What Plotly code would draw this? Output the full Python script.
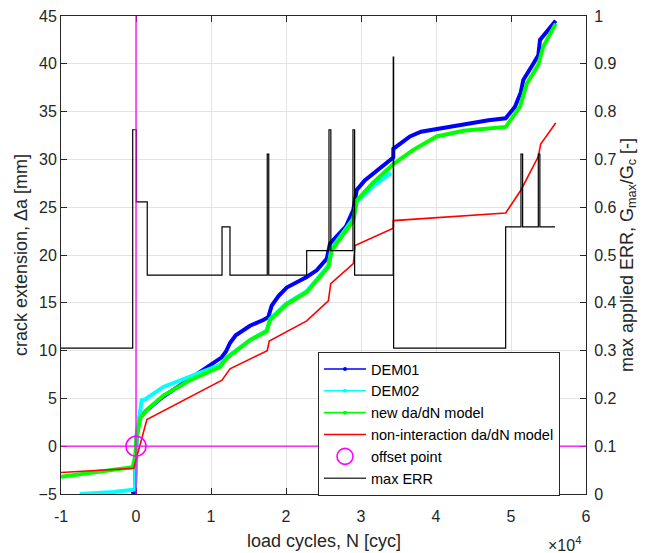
import plotly.graph_objects as go

# ---- data ----
N_dem01 = [-600, -150, -60, 80, 500, 1470, 3640, 5500, 7200, 9870, 11430, 12000, 12530, 13300,
           14310, 15200, 16970, 17640, 18090, 19000, 20090, 21500, 22760, 24090, 25430, 25870,
           27200, 28000, 28970, 29430, 30500, 31640, 33870, 34300, 34310, 35500, 36530, 38000,
           40090, 43640, 47000, 49290, 50530, 51300, 51640, 52970, 53640, 53870, 55200, 55960]
a_dem01 = [-5.0, -4.9, -2.0, 1.0, 3.0, 3.8, 5.2, 6.2, 7.1, 8.5, 9.3, 9.9, 10.8, 11.6,
           12.1, 12.6, 13.2, 13.5, 14.7, 15.7, 16.6, 17.2, 17.7, 18.4, 19.6, 21.2,
           22.3, 23.0, 24.7, 26.8, 27.8, 28.5, 29.9, 30.2, 31.1, 31.8, 32.4, 32.9,
           33.2, 33.7, 34.1, 34.3, 35.5, 37.0, 38.3, 40.0, 40.9, 42.5, 43.7, 44.5]

N_dem02 = [-7500, -3000, -400, -150, -50, 100, 760, 1200, 3640, 7200, 11200, 12090, 15200,
           17420, 17870, 20000, 22760, 25650, 26090, 28970, 29430, 31640, 34000]
a_dem02 = [-5.0, -4.8, -4.55, -4.5, -1.5, 1.2, 4.8, 4.9, 6.2, 7.25, 8.5, 9.3, 11.1,
           12.1, 13.3, 14.9, 16.2, 18.9, 20.7, 23.8, 25.6, 27.2, 28.6]

N_new = [-10000, -440, -100, 90, 600, 1600, 3640, 7200, 11200, 12090, 15200, 17420, 17870,
         20000, 22760, 25650, 26090, 28090, 28970, 29430, 31640, 34310, 36970, 40090, 43640,
         49290, 51200, 52090, 53640, 54310, 55960]
a_new = [-3.2, -2.2, -1.0, 1.0, 3.0, 3.9, 5.3, 6.9, 8.3, 9.2, 11.1, 12.0, 13.2,
         14.8, 16.1, 18.75, 20.5, 22.6, 23.6, 25.7, 27.6, 29.5, 31.0, 32.4, 33.0,
         33.4, 35.5, 37.9, 39.9, 41.8, 44.2]

N_nonint = [-10000, -300, 1450, 11470, 12530, 17500, 17770, 22760, 25650, 25960, 28980,
            29200, 34300, 34310, 49290, 51330, 53640, 53960, 55960]
a_nonint = [-2.75, -2.3, 2.8, 6.9, 8.1, 10.0, 11.0, 13.1, 15.2, 17.0, 19.1,
            21.0, 22.8, 23.6, 24.4, 26.8, 30.3, 31.6, 33.8]

N_offset = [0]
a_offset = [0]

N_err = [-10000, -440, 40, 1500, 11470, 12530, 17500, 17700, 22760, 25730, 25980, 28930,
         29150, 34300, 34350, 49290, 51330, 51550, 53640, 53850, 55870]
G_err = [0.305, 0.762, 0.611, 0.458, 0.559, 0.458, 0.711, 0.458, 0.509, 0.762, 0.509, 0.762,
         0.458, 0.914, 0.305, 0.559, 0.711, 0.559, 0.711, 0.559, 0.559]

x_ticks = [-10000, 0, 10000, 20000, 30000, 40000, 50000, 60000]
x_ticklabels = ["-1", "0", "1", "2", "3", "4", "5", "6"]
y_ticks = [-5, 0, 5, 10, 15, 20, 25, 30, 35, 40, 45]
y2_ticks = [0, 0.1, 0.2, 0.3, 0.4, 0.5, 0.6, 0.7, 0.8, 0.9, 1]

FONT = "Liberation Sans, Arial, sans-serif"
AX = "#262626"

fig = go.Figure()

def curve(x, y, color, width):
    fig.add_trace(go.Scatter(x=x, y=y, mode="lines", line=dict(color=color, width=width),
                             showlegend=False, hoverinfo="skip"))

curve(N_dem01, a_dem01, "#0000ff", 4)
curve(N_dem02, a_dem02, "#00ffff", 4)
curve(N_new, a_new, "#00ff00", 4)
curve(N_nonint, a_nonint, "#ff0000", 1.6)

fig.add_trace(go.Scatter(x=N_offset, y=a_offset, mode="markers",
                         marker=dict(symbol="circle-open", size=20, color="#ff00ff",
                                     line=dict(width=1.6, color="#ff00ff")),
                         showlegend=False, hoverinfo="skip"))

fig.add_trace(go.Scatter(x=N_err, y=G_err, mode="lines", line=dict(color="#000000", width=1.2, shape="hv"),
                         yaxis="y2", showlegend=False, hoverinfo="skip"))

# legend-only entries (thin line with small dot marker like MATLAB '.-')
for name, color, mk in [("DEM01", "#0000ff", True), ("DEM02", "#00ffff", True),
                        ("new da/dN model", "#00ff00", True),
                        ("non-interaction da/dN model", "#ff0000", False)]:
    fig.add_trace(go.Scatter(x=[None], y=[None], name=name,
                             mode="lines+markers" if mk else "lines",
                             line=dict(color=color, width=1.6),
                             marker=dict(size=4, color=color)))
fig.add_trace(go.Scatter(x=[None], y=[None], name="offset point", mode="markers",
                         marker=dict(symbol="circle-open", size=18, color="#ff00ff",
                                     line=dict(width=1.6, color="#ff00ff"))))
fig.add_trace(go.Scatter(x=[None], y=[None], name="max ERR", mode="lines",
                         line=dict(color="#404040", width=1.6)))

# magenta reference lines through offset point
fig.add_shape(type="line", xref="x", yref="paper", x0=N_offset[0], x1=N_offset[0], y0=0, y1=1,
              line=dict(color="#ff00ff", width=1.3), layer="above")
fig.add_shape(type="line", xref="paper", yref="y", x0=0, x1=1, y0=a_offset[0], y1=a_offset[0],
              line=dict(color="#ff00ff", width=1.3), layer="above")

fig.update_layout(
    width=647, height=553,
    margin=dict(l=61, r=61, t=16, b=59, autoexpand=False),
    paper_bgcolor="white", plot_bgcolor="white",
    font=dict(family=FONT, size=16, color=AX),
    xaxis=dict(range=[-10000, 60000], tickvals=x_ticks, ticktext=x_ticklabels, automargin=False,
               showgrid=True, gridcolor="#e3e3e3", gridwidth=1, zeroline=False,
               showline=True, linecolor=AX, linewidth=1, mirror="ticks",
               ticks="inside", ticklen=6, tickcolor=AX, ticklabelstandoff=8,
               tickfont=dict(size=16)),
    yaxis=dict(range=[-5, 45], tickvals=y_ticks, showgrid=True, gridcolor="#e3e3e3", automargin=False,
               zeroline=False, showline=True, linecolor=AX, linewidth=1,
               ticks="inside", ticklen=6, tickcolor=AX,
               title=dict(text="crack extension, Δa [mm]", font=dict(size=18), standoff=6),
               tickfont=dict(size=16)),
    yaxis2=dict(range=[0, 1], tickvals=y2_ticks, ticktext=[f"{v:g}" for v in y2_ticks],
                overlaying="y", side="right", showgrid=False, zeroline=False, automargin=False,
                showline=True, linecolor=AX, linewidth=1,
                ticks="inside", ticklen=6, tickcolor=AX, ticklabelstandoff=4,
                title=dict(text="max applied ERR, G<sub>max</sub>/G<sub>c</sub> [-]",
                           font=dict(size=18), standoff=3),
                tickfont=dict(size=16)),
    legend=dict(x=0.4895, y=0.297, xanchor="left", yanchor="top",
                bgcolor="white", bordercolor=AX, borderwidth=1,
                font=dict(size=14.5, color="#000000"), tracegroupgap=0, itemwidth=42),
    annotations=[
        dict(text="load cycles, N [cyc]", xref="paper", yref="paper", x=0.5, y=-0.098,
             xanchor="center", yanchor="middle", showarrow=False, font=dict(size=18, color=AX)),
        dict(text="×10<sup>4</sup>", xref="paper", yref="paper", x=0.994, y=-0.104,
             xanchor="right", yanchor="middle", showarrow=False, font=dict(size=16, color=AX)),
    ],
)

# remove the browser's default 8px body margin so the figure sits at the window's top-left
fig.write_html("out.html", config={"displayModeBar": False},
               post_script="document.body.style.margin='0';")
